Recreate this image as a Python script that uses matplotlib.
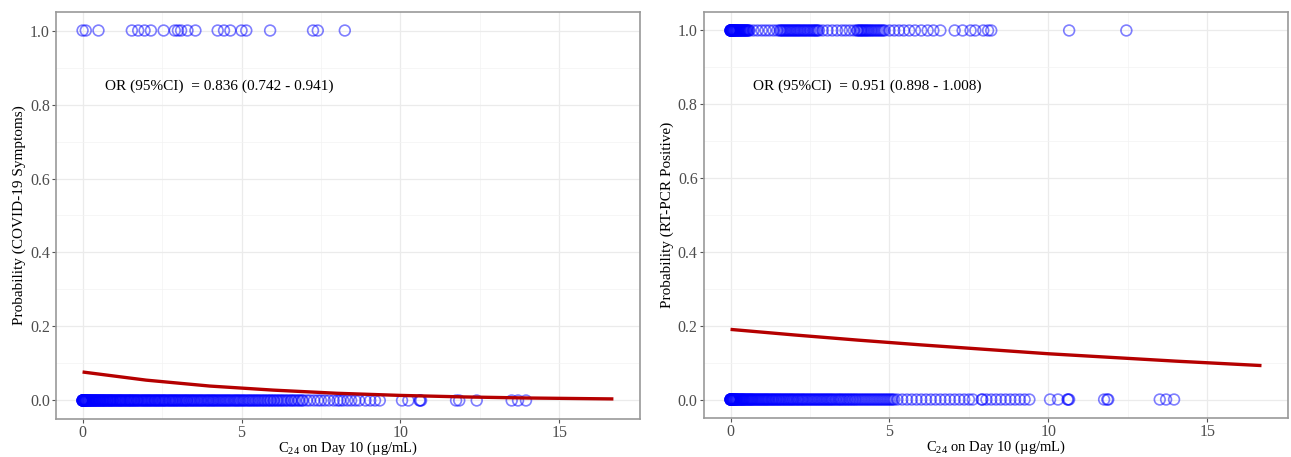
import numpy as np
import matplotlib
matplotlib.use("Agg")
import matplotlib.pyplot as plt
from matplotlib.ticker import MultipleLocator

plt.rcParams['font.family'] = ['Liberation Serif', 'DejaVu Serif']
plt.rcParams['mathtext.fontset'] = 'custom'
plt.rcParams['mathtext.rm'] = 'Liberation Serif'

# ---- left panel: COVID-19 symptoms ----
sym_yes = [0.0, 0.1, 0.5, 1.55, 1.75, 1.95, 2.15, 2.55, 2.9, 3.0, 3.1, 3.3,
           3.55, 4.25, 4.45, 4.65, 5.0, 5.15, 5.9, 7.25, 7.4, 8.25]
sym_no = [0.0, 0.0, 0.01, 0.02, 0.03, 0.05, 0.06, 0.08, 0.1, 0.12, 0.15, 0.18,
          0.2, 0.23, 0.26, 0.3, 0.33, 0.37, 0.4, 0.44, 0.48, 0.52, 0.55, 0.6,
          0.64, 0.68, 0.72, 0.77, 0.81, 0.86, 0.9, 0.95,
          1.0, 1.05, 1.1, 1.16, 1.2, 1.25, 1.31, 1.36, 1.42, 1.47, 1.52, 1.58,
          1.63, 1.7, 1.75, 1.82, 1.88, 1.94,
          2.0, 2.06, 2.12, 2.18, 2.25, 2.3, 2.37, 2.43, 2.5, 2.56, 2.62, 2.7,
          2.76, 2.83, 2.9, 2.96,
          3.03, 3.1, 3.17, 3.24, 3.3, 3.38, 3.45, 3.52, 3.6, 3.67, 3.74, 3.82,
          3.9, 3.97,
          4.05, 4.12, 4.2, 4.28, 4.36, 4.44, 4.52, 4.6, 4.68, 4.77, 4.85, 4.93,
          5.02, 5.1, 5.2, 5.28, 5.37, 5.46, 5.55, 5.65, 5.74, 5.84, 5.93,
          6.03, 6.14, 6.25, 6.36, 6.47, 6.58, 6.7, 6.82, 6.93,
          7.05, 7.15, 7.28, 7.4, 7.5, 7.62, 7.75, 7.9,
          8.02, 8.1, 8.2, 8.33, 8.45, 8.58, 8.7, 8.9, 9.05, 9.2, 9.35,
          10.05, 10.25, 10.6, 10.62, 10.65, 11.75, 11.85, 12.4, 13.5, 13.7, 13.95,
          0.0, 0.0, 0.0, 0.01, 0.02, 0.04, 0.07, 0.09, 0.11, 0.14, 0.17, 0.21,
          0.25, 0.28, 0.31, 0.35, 0.39, 0.42, 0.46, 0.5, 0.54, 0.58, 0.62, 0.66,
          0.7, 0.75, 0.79, 0.84, 0.88, 0.93, 0.97, 1.03, 1.08, 1.13, 1.18, 1.23,
          1.28, 1.34, 1.39, 1.45, 1.5, 1.55, 1.61, 1.66, 1.72, 1.78, 1.85, 1.91,
          1.97, 2.03, 2.09, 2.15, 2.21, 2.28, 2.34, 2.4, 2.46, 2.53, 2.59, 2.66,
          2.73, 2.8, 2.86, 2.93, 3.0, 3.07, 3.14, 3.21, 3.28, 3.35, 3.42, 3.49,
          3.56, 3.63, 3.71, 3.78, 3.86, 3.94, 4.01, 4.09, 4.16, 4.24, 4.32, 4.4,
          4.48, 4.56, 4.64, 4.73, 4.81, 4.89, 4.97, 5.06, 5.15, 5.24, 5.33, 5.42,
          5.51, 5.6, 5.7, 5.8, 5.9, 6.0, 6.1, 6.2, 6.3, 6.42, 6.55, 6.65, 6.78, 6.9]
sym_fit_x = [0, 2, 4, 6, 8, 10, 12, 14, 16.7]
sym_fit_y = [0.077, 0.055, 0.039, 0.028, 0.0195, 0.0137, 0.0096, 0.0067, 0.0042]
sym_label = 'OR (95%CI)  = 0.836 (0.742 - 0.941)'

# ---- right panel: RT-PCR positive ----
pcr_yes = [0.0, 0.0, 0.01, 0.02, 0.03, 0.05, 0.07, 0.09, 0.11, 0.14, 0.17, 0.2,
           0.23, 0.27, 0.3, 0.34, 0.38, 0.42, 0.46, 0.5, 0.55, 0.6,
           0.72, 0.85, 0.98, 1.1, 1.22, 1.35, 1.47,
           1.55, 1.62, 1.7, 1.78, 1.86, 1.94, 2.02, 2.1, 2.18, 2.27, 2.35, 2.44,
           2.53, 2.62, 2.7, 2.78,
           2.9, 3.05, 3.2, 3.35, 3.5, 3.62, 3.75, 3.88,
           3.98, 4.05, 4.12, 4.2, 4.28, 4.36, 4.45, 4.55, 4.65, 4.75, 4.85,
           5.0, 5.15, 5.3, 5.45, 5.62, 5.8, 6.0, 6.2, 6.38,
           6.6, 7.05, 7.3, 7.55, 7.7, 7.95, 8.1, 8.2, 10.65, 12.45,
           0.0, 0.0, 0.01, 0.02, 0.04, 0.06, 0.08, 0.1, 0.13, 0.16, 0.19, 0.22,
           0.25, 0.29, 0.32, 0.36, 0.4, 0.44, 0.48, 0.52, 0.57, 1.58, 1.66, 1.74,
           1.82, 1.9, 1.98, 2.06, 2.14, 2.22, 2.31, 2.4, 2.49, 2.58, 2.66, 2.74,
           4.0, 4.09, 4.16, 4.24, 4.32, 4.41, 4.5, 4.6, 4.7, 4.8]
pcr_no = [0.0, 0.0, 0.01, 0.02, 0.04, 0.06, 0.08, 0.1, 0.13, 0.16, 0.19, 0.22,
          0.26, 0.3, 0.34, 0.38, 0.42, 0.47, 0.52, 0.57, 0.62, 0.67, 0.72, 0.78,
          0.84, 0.9, 0.96,
          1.02, 1.08, 1.14, 1.2, 1.27, 1.33, 1.4, 1.46, 1.53, 1.6, 1.67, 1.74,
          1.81, 1.88, 1.95,
          2.02, 2.1, 2.17, 2.25, 2.32, 2.4, 2.48, 2.56, 2.64, 2.72, 2.8, 2.88, 2.96,
          3.04, 3.12, 3.2, 3.29, 3.38, 3.46, 3.55, 3.64, 3.73, 3.82, 3.91,
          4.0, 4.1, 4.2, 4.3, 4.4, 4.5, 4.6, 4.7, 4.8, 4.9, 5.0, 5.1,
          5.25, 5.4, 5.55, 5.7, 5.85, 6.0, 6.15, 6.3, 6.45, 6.6, 6.75, 6.9,
          7.05, 7.2, 7.35, 7.5, 7.62, 7.9, 7.92, 8.05, 8.2, 8.35, 8.5, 8.65,
          8.8, 8.95, 9.1, 9.25, 9.4,
          10.05, 10.3, 10.6, 10.62, 10.65, 11.75, 11.85, 11.88, 13.5, 13.7, 13.95,
          0.0, 0.0, 0.0, 0.01, 0.03, 0.05, 0.07, 0.09, 0.11, 0.14, 0.17, 0.2,
          0.24, 0.28, 0.32, 0.36, 0.4, 0.44, 0.49, 0.54, 0.59, 0.64, 0.69, 0.75,
          0.81, 0.87, 0.93, 0.99, 1.05, 1.11, 1.17, 1.23, 1.3, 1.36, 1.43, 1.5,
          1.56, 1.63, 1.7, 1.77, 1.84, 1.91, 1.98, 2.06, 2.13, 2.21, 2.28, 2.36,
          2.44, 2.52, 2.6, 2.68, 2.76, 2.84, 2.92, 3.0, 3.08, 3.16, 3.24, 3.33,
          3.42, 3.5, 3.59, 3.68, 3.77, 3.86, 3.95, 4.05, 4.15, 4.25, 4.35, 4.45,
          4.55, 4.65, 4.75, 4.85, 4.95, 5.05, 5.15]
pcr_fit_x = [0, 2, 4, 6, 8, 10, 12, 14, 16.7]
pcr_fit_y = [0.190, 0.175, 0.161, 0.148, 0.136, 0.124, 0.114, 0.104, 0.092]
pcr_label = 'OR (95%CI)  = 0.951 (0.898 - 1.008)'

xlab = r'$\mathrm{C}_{24}$ on Day 10 (µg/mL)'

fig = plt.figure(figsize=(12.91, 4.57), dpi=100)
ax1 = fig.add_axes([0.0434, 0.0832, 0.4523, 0.8905])
ax2 = fig.add_axes([0.5453, 0.0854, 0.4524, 0.8883])


def draw_panel(ax, yes, no, fx, fy, label, ylab):
    ax.scatter(no, np.zeros(len(no)), s=60, facecolors='none',
               edgecolors='blue', linewidths=1.2, alpha=0.5, zorder=2)
    ax.scatter(yes, np.ones(len(yes)), s=60, facecolors='none',
               edgecolors='blue', linewidths=1.2, alpha=0.5, zorder=2)
    ax.plot(fx, fy, color='#B50000', lw=2.4, zorder=3, solid_capstyle='butt')
    ax.text(4.3, 0.85, label, ha='center', va='center', fontsize=11)

    ax.set_xlim(-0.835, 17.535)
    ax.set_ylim(-0.05, 1.05)
    ax.xaxis.set_major_locator(MultipleLocator(5))
    ax.xaxis.set_minor_locator(MultipleLocator(2.5))
    ax.yaxis.set_major_locator(MultipleLocator(0.2))
    ax.yaxis.set_minor_locator(MultipleLocator(0.1))
    ax.set_yticklabels([f'{v:.1f}' for v in ax.get_yticks()])
    ax.grid(which='major', color='#EBEBEB', lw=0.9, zorder=0)
    ax.grid(which='minor', color='#F3F3F3', lw=0.5, zorder=0)
    ax.set_axisbelow(True)
    ax.tick_params(which='minor', length=0)
    ax.tick_params(which='major', length=3, width=0.8, color='#555555',
                   labelcolor='#4D4D4D', labelsize=11.5, pad=1.5)
    for sp in ax.spines.values():
        sp.set_color('#999999')
        sp.set_linewidth(1.2)
    ax.set_xlabel(xlab, fontsize=10.5, labelpad=-1)
    ax.set_ylabel(ylab, fontsize=11, labelpad=3)


draw_panel(ax1, sym_yes, sym_no, sym_fit_x, sym_fit_y, sym_label,
           'Probability (COVID-19 Symptoms)')
draw_panel(ax2, pcr_yes, pcr_no, pcr_fit_x, pcr_fit_y, pcr_label,
           'Probability (RT-PCR Positive)')

fig.savefig('out.png', dpi=100)
